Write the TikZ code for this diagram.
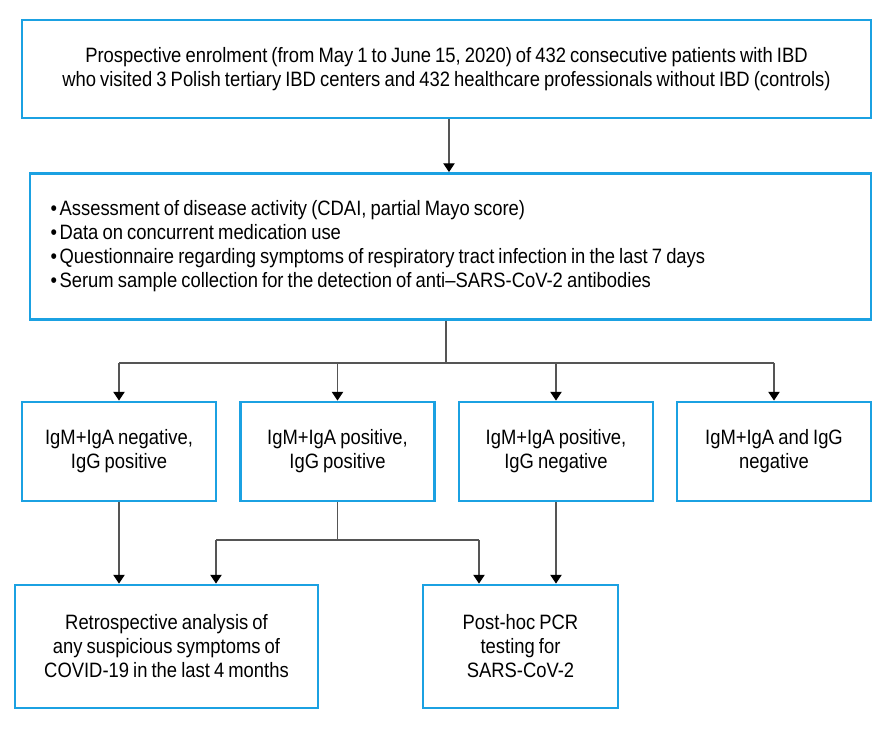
\documentclass[tikz,border=0pt]{standalone}
\usepackage{fontspec}
\setmainfont{Liberation Sans}[FakeStretch=0.885, WordSpace=0.8]
\usepackage{tikz}
\tikzset{>=stealth}
\usetikzlibrary{arrows.meta, positioning}
\definecolor{boxblue}{HTML}{1BA1E2}
\definecolor{linegray}{HTML}{555555}

\begin{document}
\begin{tikzpicture}[>={Triangle[width=8.5pt,length=6.5pt,black]}, x=0.75pt, y=-0.75pt,
    box/.style={draw=boxblue, line width=2.2pt, align=flush center, inner sep=4pt,
        font=\fontsize{15.6pt}{18pt}\selectfont},
    smallbox/.style={box, minimum width=145.5pt, minimum height=74.25pt, text width=137pt},
    conn/.style={draw=linegray, line width=0.8pt}]
        \useasboundingbox (0,0) rectangle (892,730);
        \node[box, minimum width=636.75pt, minimum height=73.5pt] (enrol) at (446.5,69)
            {Prospective enrolment (from May 1 to June 15, 2020) of 432 consecutive patients with IBD\\
             who visited 3 Polish tertiary IBD centers and 432 healthcare professionals without IBD (controls)};
        \node[box, minimum width=630.75pt, minimum height=109.5pt, align=flush left, text width=600pt] (assess) at (450.5,246.5)
            {•\hspace{2pt}Assessment of disease activity (CDAI, partial Mayo score)\\
             •\hspace{2pt}Data on concurrent medication use\\
             •\hspace{2pt}Questionnaire regarding symptoms of respiratory tract infection in the last 7 days\\
             •\hspace{2pt}Serum sample collection for the detection of anti–SARS-CoV-2 antibodies};
        \node[smallbox] (grpA) at (119,451.5) {IgM+IgA negative,\\ IgG positive};
        \node[smallbox] (grpB) at (337.5,451.5) {IgM+IgA positive,\\ IgG positive};
        \node[smallbox] (grpC) at (556,451.5) {IgM+IgA positive,\\ IgG negative};
        \node[smallbox] (grpD) at (774,451.5) {IgM+IgA and IgG\\ negative};
        \node[box, minimum width=227.25pt, minimum height=92.25pt] (retro) at (166.5,646.5)
            {Retrospective analysis of\\ any suspicious symptoms of\\ COVID-19 in the last 4 months};
        \node[box, minimum width=146.25pt, minimum height=92.25pt] (pcr) at (520.5,646.5)
            {Post-hoc PCR\\ testing for\\ SARS-CoV-2};
        \coordinate (split) at (446,363);
        \coordinate (joinL) at (216,540);
        \coordinate (joinR) at (479,540);
        \draw[conn, ->] (enrol.south -| 449,0) -- (assess.north -| 449,0);
        \draw[conn] (assess.south -| split) -- (split);
        \draw[conn] (split -| grpA) -- (split -| grpD);
        \draw[conn, ->] (split -| grpA) -- (grpA.north);
        \draw[conn, ->] (split -| grpB) -- (grpB.north);
        \draw[conn, ->] (split -| grpC) -- (grpC.north);
        \draw[conn, ->] (split -| grpD) -- (grpD.north);
        \draw[conn, ->] (grpA.south) -- (grpA.south |- retro.north);
        \draw[conn] (grpB.south) -- (grpB.south |- joinL) (joinL) -- (joinR);
        \draw[conn, ->] (joinL) -- (joinL |- retro.north);
        \draw[conn, ->] (joinR) -- (joinR |- pcr.north);
        \draw[conn, ->] (grpC.south) -- (grpC.south |- pcr.north);
    \end{tikzpicture}
\end{document}
